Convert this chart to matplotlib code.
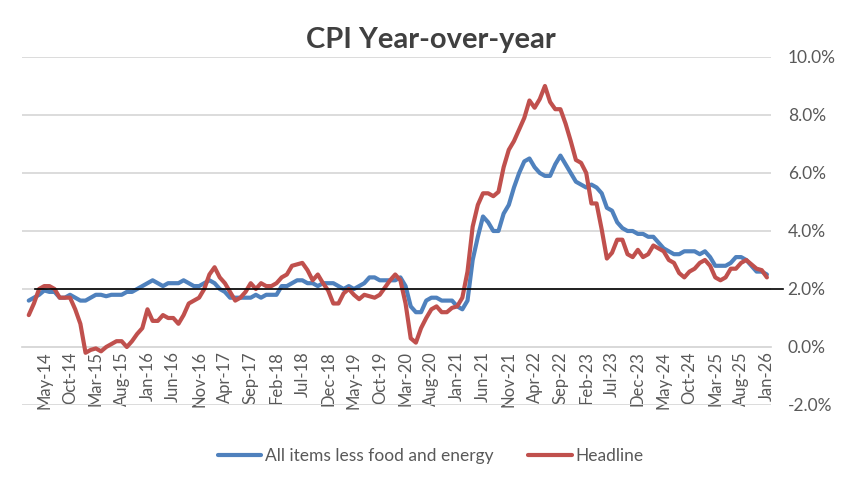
import matplotlib
matplotlib.use("Agg")
import matplotlib.pyplot as plt
import matplotlib.ticker as mticker
import pandas as pd

# monthly CPI year-over-year, Feb-14 .. Jan-26 (percent)
months = pd.date_range("2014-02-01", periods=144, freq="MS")

headline = [
    1.1, 1.5, 2.0, 2.1, 2.1, 2.0, 1.7, 1.7, 1.7, 1.3, 0.8,
    -0.2, -0.1, -0.05, -0.15, 0.0, 0.1, 0.2, 0.2, 0.0, 0.2, 0.45, 0.65,
    1.3, 0.9, 0.9, 1.1, 1.0, 1.0, 0.8, 1.1, 1.5, 1.6, 1.7, 2.0,
    2.5, 2.75, 2.4, 2.2, 1.9, 1.6, 1.7, 1.9, 2.2, 2.0, 2.2, 2.1,
    2.1, 2.2, 2.4, 2.5, 2.8, 2.85, 2.9, 2.65, 2.3, 2.5, 2.2, 1.95,
    1.5, 1.5, 1.85, 2.0, 1.8, 1.65, 1.8, 1.75, 1.7, 1.8, 2.05, 2.3,
    2.5, 2.3, 1.5, 0.3, 0.15, 0.65, 1.0, 1.3, 1.4, 1.2, 1.2, 1.35,
    1.4, 1.7, 2.6, 4.15, 4.9, 5.3, 5.3, 5.2, 5.35, 6.2, 6.8, 7.1,
    7.5, 7.9, 8.5, 8.25, 8.55, 9.0, 8.45, 8.2, 8.2, 7.7, 7.1, 6.45,
    6.35, 6.0, 4.95, 4.95, 4.05, 3.05, 3.25, 3.7, 3.7, 3.2, 3.1, 3.35,
    3.1, 3.2, 3.5, 3.4, 3.3, 3.0, 2.9, 2.55, 2.4, 2.6, 2.7, 2.9,
    3.0, 2.8, 2.4, 2.3, 2.4, 2.7, 2.7, 2.9, 3.0, 2.85, 2.7, 2.65,
    2.4,
]

core = [
    1.6, 1.7, 1.8, 1.95, 1.9, 1.9, 1.7, 1.7, 1.8, 1.7, 1.6,
    1.6, 1.7, 1.8, 1.8, 1.75, 1.8, 1.8, 1.8, 1.9, 1.9, 2.0, 2.1,
    2.2, 2.3, 2.2, 2.1, 2.2, 2.2, 2.2, 2.3, 2.2, 2.1, 2.1, 2.2,
    2.3, 2.2, 2.0, 1.9, 1.7, 1.7, 1.7, 1.7, 1.7, 1.8, 1.7, 1.8,
    1.8, 1.8, 2.1, 2.1, 2.2, 2.3, 2.3, 2.2, 2.2, 2.1, 2.2, 2.2,
    2.2, 2.1, 2.0, 2.1, 2.0, 2.1, 2.2, 2.4, 2.4, 2.3, 2.3, 2.3,
    2.3, 2.4, 2.1, 1.4, 1.2, 1.2, 1.6, 1.7, 1.7, 1.6, 1.6, 1.6,
    1.4, 1.3, 1.6, 3.0, 3.8, 4.5, 4.3, 4.0, 4.0, 4.6, 4.9, 5.5,
    6.0, 6.4, 6.5, 6.2, 6.0, 5.9, 5.9, 6.3, 6.6, 6.3, 6.0, 5.7,
    5.6, 5.5, 5.6, 5.5, 5.3, 4.8, 4.7, 4.3, 4.1, 4.0, 4.0, 3.9,
    3.9, 3.8, 3.8, 3.6, 3.4, 3.3, 3.2, 3.2, 3.3, 3.3, 3.3, 3.2,
    3.3, 3.1, 2.8, 2.8, 2.8, 2.9, 3.1, 3.1, 3.0, 2.8, 2.6, 2.6,
    2.5,
]

target = 2.0
grey = "#595959"
grid_c = "#D9D9D9"

plt.rcParams["font.family"] = ["Lato", "DejaVu Sans"]

fig = plt.figure(figsize=(8.61, 4.88), dpi=100)
ax = fig.add_axes([0.0256, 0.1701, 0.8699, 0.7131])

x = list(range(len(months)))
ax.plot(x, core, color="#4F81BD", lw=3.0, solid_capstyle="round",
        label="All items less food and energy", zorder=3)
ax.plot(x, headline, color="#C0504D", lw=3.0, solid_capstyle="round",
        label="Headline", zorder=4)

# 2% target line (runs a bit past the plot area, like the drawn shape)
ax.axhline(target, xmin=0.017, xmax=1.016, color="black", lw=1.2,
           clip_on=False, zorder=5)

ax.set_xlim(-1.3, 143.8)
ax.set_ylim(-2, 10)

for s in ["top", "left", "right"]:
    ax.spines[s].set_visible(False)
# moving the spine resets the ticks, so do it before styling them
ax.spines["bottom"].set_position(("data", 0))
ax.spines["bottom"].set_color(grid_c)
ax.spines["bottom"].set_linewidth(1.3)

ax.yaxis.set_major_locator(mticker.MultipleLocator(2))
ax.yaxis.set_major_formatter(mticker.FuncFormatter(lambda v, p: f"{v:.1f}%"))
ax.yaxis.tick_right()
ax.grid(axis="y", color=grid_c, lw=1.3)
ax.set_axisbelow(True)

tick_pos = list(range(3, len(months), 5))
ax.set_xticks(tick_pos)
ax.set_xticklabels([months[i].strftime("%b-%y") for i in tick_pos])

ax.tick_params(axis="x", length=0, pad=3, labelsize=12, labelcolor=grey,
               labelrotation=90)
ax.tick_params(axis="y", length=0, pad=12, labelsize=12.5, labelcolor=grey)

fig.text(0.5, 0.918, "CPI Year-over-year", ha="center", va="center",
         fontsize=21, fontweight="bold", color="#404040")

fig.legend(loc="center", bbox_to_anchor=(0.5, 0.065), ncol=2, frameon=False,
           fontsize=12.5, handlelength=2.5, handletextpad=0.2, columnspacing=2.0,
           labelcolor=grey)

fig.savefig("out.png", dpi=100)
